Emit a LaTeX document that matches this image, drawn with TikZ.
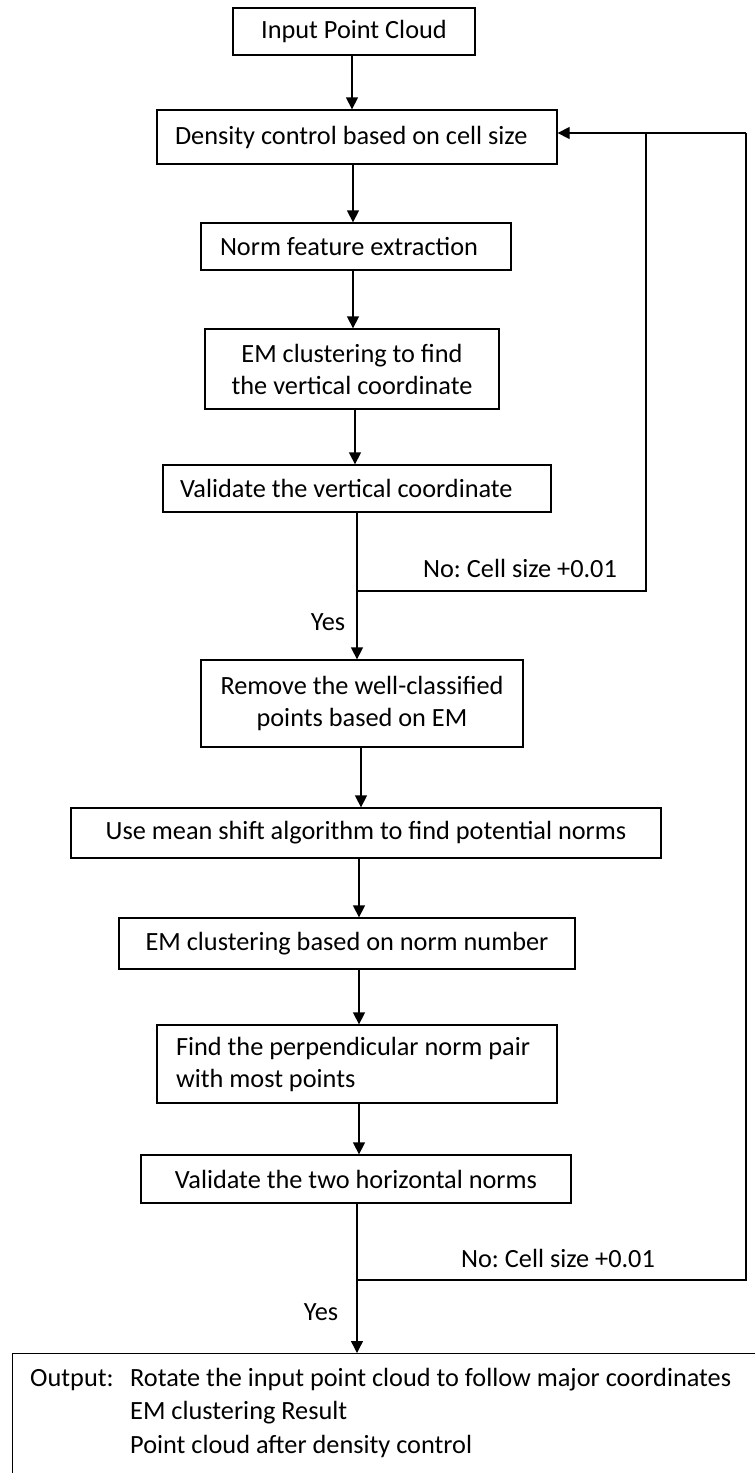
\documentclass[tikz,border=0pt]{standalone}
\usepackage{fontspec}
\setmainfont{Carlito}
\usetikzlibrary{arrows.meta}
\frenchspacing
\begin{document}
\begin{tikzpicture}[x=1pt,y=-1pt,
  every node/.style={font=\fontsize{26.3pt}{32pt}\selectfont\frenchspacing, text=black},
  box/.style={draw, line width=1.3pt, inner xsep=0pt, inner ysep=0pt, align=flush center},
  lbox/.style={draw, line width=1.3pt, inner ysep=0pt, align=flush left},
  arr/.style={line width=1.3pt, -{Triangle[length=12pt,width=12pt]}},
  fbline/.style={line width=1.3pt},
  lbl/.style={inner sep=0pt}]
\useasboundingbox (0,0) rectangle (755,1473);
\clip (0,0) rectangle (755,1473);

% boxes
\node[box, text width=242pt, minimum height=47pt] (in) at (354,31.5) {Input Point Cloud};
\node[lbox, inner xsep=18pt, text width=364pt, minimum height=54pt] (dens) at (357,137) {Density control based on cell size};
\node[lbox, inner xsep=19pt, text width=272pt, minimum height=47pt] (norm) at (356,246.5) {Norm feature extraction};
\node[box, text width=294pt, minimum height=80pt] (emv) at (352,369) {EM clustering to find\\the vertical coordinate};
\node[lbox, inner xsep=17pt, text width=354pt, minimum height=47pt] (vv) at (357,488.5) {Validate the vertical coordinate};
\node[box, text width=322pt, minimum height=87pt] (rem) at (362,703.5) {Remove the well-classified\\points based on EM};
\node[box, text width=590pt, minimum height=50pt] (ms) at (366,833) {Use mean shift algorithm to find potential norms};
\node[box, text width=456pt, minimum height=51pt] (emn) at (347,943.5) {EM clustering based on norm number};
\node[lbox, inner xsep=19pt, text width=362pt, minimum height=78pt] (find) at (357,1064) {Find the perpendicular norm pair\\with most points};
\node[box, text width=430pt, minimum height=48pt] (vh) at (356,1179) {Validate the two horizontal norms};
\node[draw, line width=1.3pt, inner sep=0pt, anchor=north west, minimum width=820pt, minimum height=170pt] (out) at (12,1353) {};

% output text
\node[lbl, anchor=base west] (outlbl) at (30,1386) {Output:};
\node[lbl, anchor=base west] (out1) at (130,1386) {Rotate the input point cloud to follow major coordinates};
\node[lbl, anchor=base west] (out2) at (130,1419.5) {EM clustering Result};
\node[lbl, anchor=base west] (out3) at (130,1453) {Point cloud after density control};

% main arrows
\draw[arr] ([xshift=-2pt]in.south) -- ([xshift=-2pt]in.south |- dens.north);
\draw[arr] ([xshift=-4pt]dens.south) -- ([xshift=-4pt]dens.south |- norm.north);
\draw[arr] ([xshift=-3pt]norm.south) -- ([xshift=-3pt]norm.south |- emv.north);
\draw[arr] ([xshift=3pt]emv.south) -- ([xshift=3pt]emv.south |- vv.north);
\draw[arr] (vv.south) -- (vv.south |- rem.north);
\draw[arr] ([xshift=-1pt]rem.south) -- ([xshift=-1pt]rem.south |- ms.north);
\draw[arr] ([xshift=-7pt]ms.south) -- ([xshift=-7pt]ms.south |- emn.north);
\draw[arr] ([xshift=12pt]emn.south) -- ([xshift=12pt]emn.south |- find.north);
\draw[arr] ([xshift=2pt]find.south) -- ([xshift=2pt]find.south |- vh.north);
\draw[arr] ([xshift=1pt]vh.south) -- ([xshift=1pt]vh.south |- out.north);

% feedback loops
\coordinate (j1) at (357,591);
\coordinate (j2) at (357,1280);
\coordinate (r1) at (646,133);
\coordinate (r2) at (746,133);
\draw[fbline] (j1) -- (j1 -| r1) -- (r1);
\draw[fbline] (j2) -- (j2 -| r2) -- (r2);
\draw[arr] (r2) -- (dens.east |- r1);

% labels
\node[lbl] (no1) at (520,568) {No: Cell size +0.01};
\node[lbl] (yes1) at (328,622) {Yes};
\node[lbl] (no2) at (558,1258) {No: Cell size +0.01};
\node[lbl] (yes2) at (321,1312) {Yes};
\end{tikzpicture}
\end{document}
